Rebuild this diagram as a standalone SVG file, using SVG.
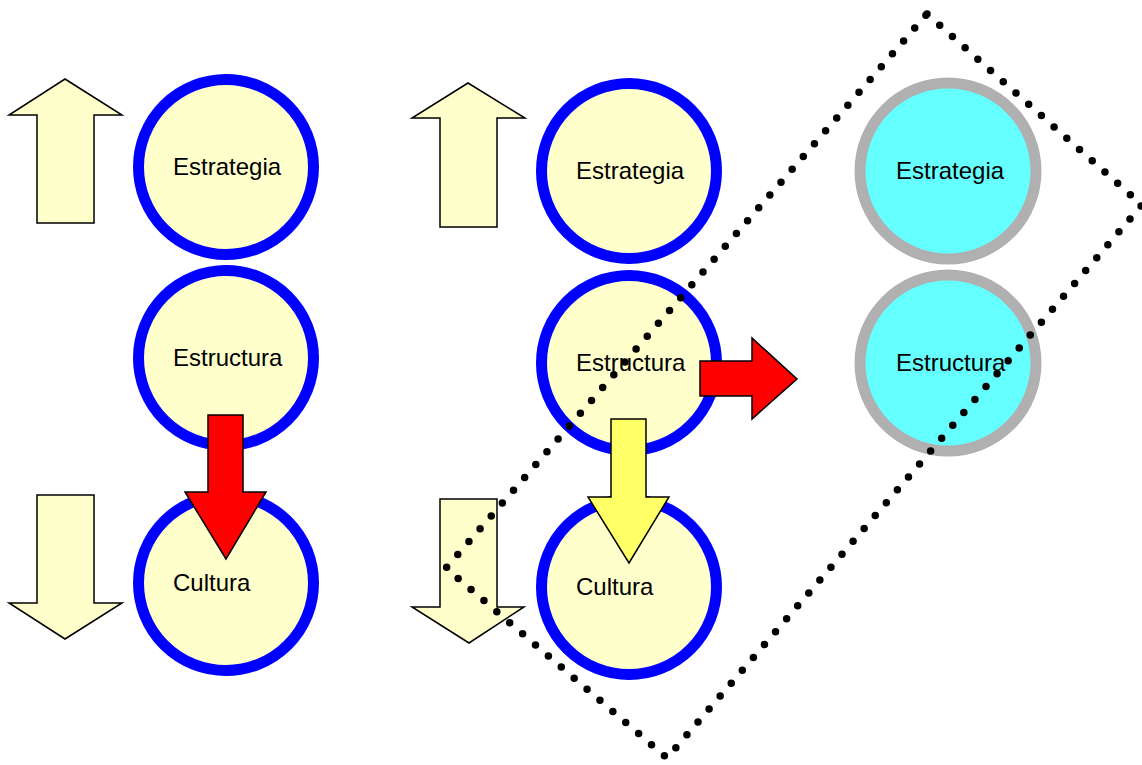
<svg xmlns="http://www.w3.org/2000/svg" width="1142" height="765" viewBox="0 0 1142 765">
<style>
.blue{fill:#ffffcc;stroke:#0000ff;stroke-width:11}
.gray{fill:#66ffff;stroke:#b0b0b0;stroke-width:11}
.big{fill:#ffffcc;stroke:#000;stroke-width:1.5;stroke-linejoin:miter}
.red{fill:#ff0000;stroke:#000;stroke-width:1.5}
.yel{fill:#ffff66;stroke:#000;stroke-width:1.5}
text{font-family:"Liberation Sans",Arial,sans-serif;font-size:24px;fill:#000}
.dots{fill:none;stroke:#000;stroke-width:7.5;stroke-linecap:round;stroke-dasharray:0 17}
</style>
<rect width="1142" height="765" fill="#fff"/>
<g id="arrows-side">
<polygon class="big" points="65,79 122,115 94,115 94,223 37,223 37,115 9,115"/>
<polygon class="big" points="37,495 94,495 94,603 122,603 65,639 9,603 37,603"/>
<polygon class="big" points="468,83 525,118 497,118 497,227 440,227 440,118 412,118"/>
<polygon class="big" points="440,499 497,499 497,607 524,607 469,643 412,607 440,607"/>
</g>
<g id="n-l-estrategia"><circle class="blue" cx="226" cy="167" r="87.5"/><text x="173" y="175">Estrategia</text></g>
<g id="n-l-estructura"><circle class="blue" cx="226" cy="358" r="87.5"/><text x="173" y="366">Estructura</text></g>
<g id="n-l-cultura"><circle class="blue" cx="226" cy="583" r="87.5"/><text x="173" y="591">Cultura</text></g>
<g id="n-m-estrategia"><circle class="blue" cx="629" cy="171" r="87.5"/><text x="576" y="179">Estrategia</text></g>
<g id="n-m-estructura"><circle class="blue" cx="629" cy="363" r="87.5"/><text x="576" y="371">Estructura</text></g>
<g id="n-m-cultura"><circle class="blue" cx="629" cy="587" r="87.5"/><text x="576" y="595">Cultura</text></g>
<g id="n-r-estrategia"><circle class="gray" cx="948" cy="171" r="88"/><text x="896" y="179">Estrategia</text></g>
<g id="n-r-estructura"><circle class="gray" cx="948" cy="363" r="88"/><text x="896" y="371">Estructura</text></g>
<g id="connectors">
<polygon class="red" points="208,415 243,415 243,492 266,492 226,559 185,492 208,492"/>
<polygon class="yel" points="611,419 646,419 646,497 669,497 629,563 588,497 611,497"/>
<polygon class="red" points="700,361 752,361 752,338 797,379 752,419 752,396 700,396"/>
</g>
<g id="region">
<polygon class="dots" points="927,14 1142,205 667,758 446,568"/>
</g>
</svg>
